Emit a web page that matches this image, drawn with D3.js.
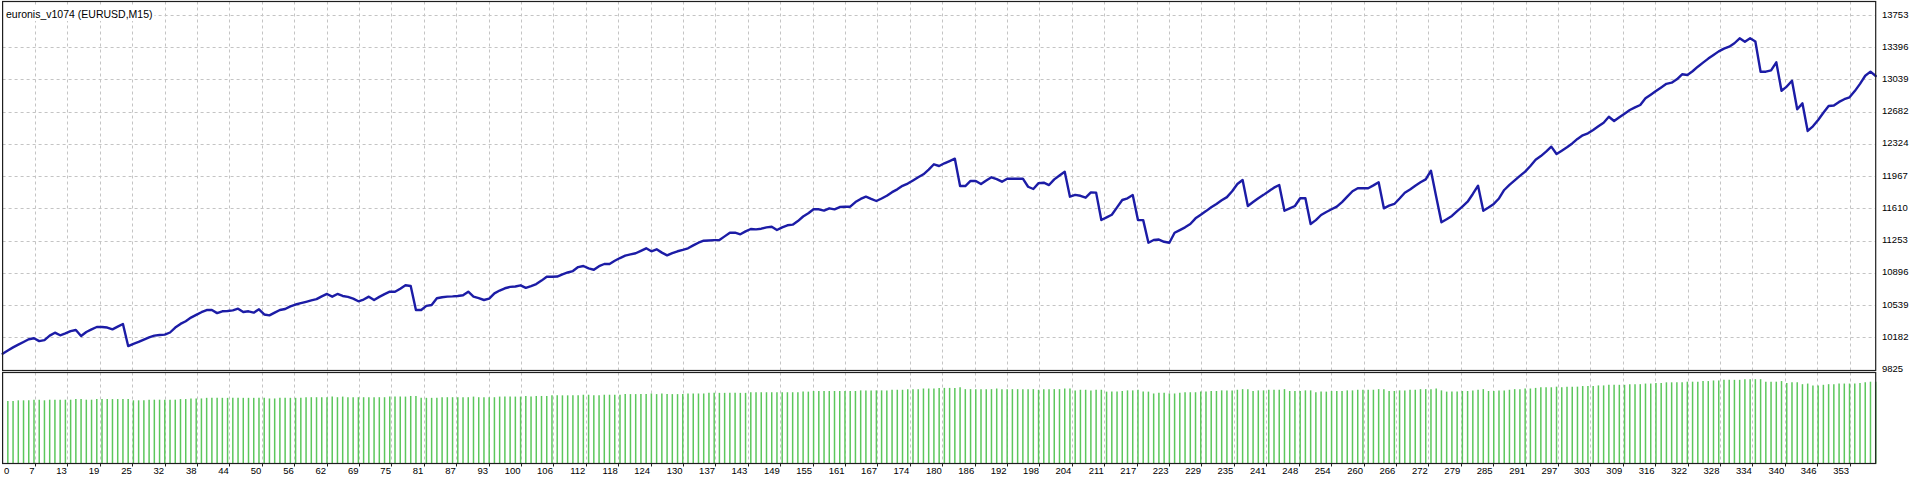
<!DOCTYPE html>
<html>
<head>
<meta charset="utf-8">
<script src="https://cdn.jsdelivr.net/npm/d3@7"></script>
<style>
  html, body { margin: 0; padding: 0; background: #ffffff; }
  svg { display: block; }
</style>
</head>
<body>
<div id="chart"></div>
<script>
// ---------------- DATA ----------------
const chartTitle = "euronis_v1074 (EURUSD,M15)";

// balance after each trade (trade 0 = starting deposit)
const equity = [
10000,10035,10070,10100,10130,10160,10171,10140,10150,10200,
10233,10204,10225,10250,10263,10196,10240,10270,10296,10296,
10290,10270,10300,10329,10085,10110,10130,10155,10180,10200,
10207,10211,10235,10290,10330,10360,10400,10430,10460,10484,
10484,10450,10470,10473,10480,10499,10462,10470,10455,10492,
10435,10425,10455,10484,10495,10525,10545,10560,10575,10590,
10605,10635,10662,10632,10662,10640,10630,10610,10581,10600,
10632,10595,10630,10660,10687,10687,10720,10758,10750,10484,
10484,10530,10540,10614,10625,10632,10635,10640,10647,10687,
10632,10615,10595,10610,10669,10700,10725,10740,10745,10758,
10730,10750,10772,10810,10853,10853,10855,10880,10900,10916,
10960,10972,10945,10930,10970,10994,10994,11030,11060,11086,
11100,11113,11140,11168,11135,11157,11120,11090,11115,11135,
11150,11168,11200,11230,11252,11255,11258,11260,11300,11341,
11341,11323,11355,11382,11378,11385,11400,11407,11371,11400,
11423,11430,11470,11520,11556,11600,11600,11585,11611,11600,
11625,11629,11629,11680,11715,11740,11715,11692,11720,11750,
11790,11821,11860,11885,11920,11955,11988,12040,12099,12080,
12110,12135,12161,11858,11858,11914,11914,11880,11920,11955,
11935,11906,11939,11939,11939,11939,11850,11825,11890,11895,
11869,11932,11975,12017,11740,11760,11750,11729,11788,11785,
11482,11510,11540,11622,11703,11722,11758,11482,11480,11230,
11260,11265,11240,11230,11340,11370,11400,11437,11500,11540,
11580,11622,11660,11700,11735,11800,11880,11925,11637,11680,
11722,11760,11800,11840,11869,11584,11610,11637,11722,11722,
11437,11480,11537,11570,11600,11629,11680,11740,11800,11833,
11833,11833,11865,11899,11611,11640,11659,11720,11784,11820,
11862,11900,11932,12028,11740,11456,11490,11526,11580,11630,
11684,11770,11862,11584,11620,11660,11720,11814,11870,11920,
11970,12017,12080,12150,12190,12240,12294,12213,12250,12287,
12330,12380,12420,12442,12480,12520,12560,12626,12578,12620,
12660,12700,12730,12756,12830,12870,12910,12950,12990,13003,
13040,13096,13088,13130,13180,13225,13270,13310,13350,13380,
13402,13440,13495,13457,13495,13460,13125,13125,13140,13229,
12914,12960,13025,12708,12774,12468,12520,12590,12670,12745,
12750,12790,12820,12841,12910,12990,13080,13125,13077
];

// lot size of trades 1..358
const lots = [
1.00,1.00,1.01,1.01,1.01,1.02,1.02,1.01,1.02,1.02,
1.02,1.02,1.02,1.03,1.03,1.02,1.02,1.03,1.03,1.03,
1.03,1.03,1.03,1.03,1.01,1.01,1.01,1.02,1.02,1.02,
1.02,1.02,1.02,1.03,1.03,1.04,1.04,1.04,1.05,1.05,
1.05,1.05,1.05,1.05,1.05,1.05,1.05,1.05,1.05,1.05,
1.04,1.04,1.05,1.05,1.05,1.05,1.05,1.06,1.06,1.06,
1.06,1.06,1.07,1.06,1.07,1.06,1.06,1.06,1.06,1.06,
1.06,1.06,1.06,1.07,1.07,1.07,1.07,1.08,1.08,1.05,
1.05,1.05,1.05,1.06,1.06,1.06,1.06,1.06,1.06,1.07,
1.06,1.06,1.06,1.06,1.07,1.07,1.07,1.07,1.07,1.08,
1.07,1.08,1.08,1.08,1.09,1.09,1.09,1.09,1.09,1.09,
1.10,1.10,1.09,1.09,1.10,1.10,1.10,1.10,1.11,1.11,
1.11,1.11,1.11,1.12,1.11,1.12,1.11,1.11,1.11,1.11,
1.12,1.12,1.12,1.12,1.13,1.13,1.13,1.13,1.13,1.13,
1.13,1.13,1.14,1.14,1.14,1.14,1.14,1.14,1.14,1.14,
1.14,1.14,1.15,1.15,1.16,1.16,1.16,1.16,1.16,1.16,
1.16,1.16,1.16,1.17,1.17,1.17,1.17,1.17,1.17,1.18,
1.18,1.18,1.19,1.19,1.19,1.20,1.20,1.20,1.21,1.21,
1.21,1.21,1.22,1.19,1.19,1.19,1.19,1.19,1.19,1.20,
1.19,1.19,1.19,1.19,1.19,1.19,1.19,1.18,1.19,1.19,
1.19,1.19,1.20,1.20,1.17,1.18,1.18,1.17,1.18,1.18,
1.15,1.15,1.15,1.16,1.17,1.17,1.18,1.15,1.15,1.12,
1.13,1.13,1.12,1.12,1.13,1.14,1.14,1.14,1.15,1.15,
1.16,1.16,1.17,1.17,1.17,1.18,1.19,1.19,1.16,1.17,
1.17,1.18,1.18,1.18,1.19,1.16,1.16,1.16,1.17,1.17,
1.14,1.15,1.15,1.16,1.16,1.16,1.17,1.17,1.18,1.18,
1.18,1.18,1.19,1.19,1.16,1.16,1.17,1.17,1.18,1.18,
1.19,1.19,1.19,1.20,1.17,1.15,1.15,1.15,1.16,1.16,
1.17,1.18,1.19,1.16,1.16,1.17,1.17,1.18,1.19,1.19,
1.20,1.20,1.21,1.22,1.22,1.22,1.23,1.22,1.23,1.23,
1.23,1.24,1.24,1.24,1.25,1.25,1.26,1.26,1.26,1.26,
1.27,1.27,1.27,1.28,1.28,1.29,1.29,1.30,1.30,1.30,
1.30,1.31,1.31,1.31,1.32,1.32,1.33,1.33,1.34,1.34,
1.34,1.34,1.35,1.35,1.35,1.35,1.31,1.31,1.31,1.32,
1.29,1.30,1.30,1.27,1.28,1.25,1.25,1.26,1.27,1.27,
1.28,1.28,1.28,1.28,1.29,1.30,1.31,1.31
];

const yTickLabels = [13753,13396,13039,12682,12324,11967,11610,11253,10896,10539,10182,9825];

const xTickLabels = [0,7,13,19,25,32,38,44,50,56,62,69,75,81,87,93,100,106,112,118,124,130,137,143,149,155,161,167,174,180,186,192,198,204,211,217,223,229,235,241,248,254,260,266,272,279,285,291,297,303,309,316,322,328,334,340,346,353];

// ---------------- LAYOUT ----------------
const W = 1920, H = 480;
const plotL = 2.6, plotR = 1875.7;
const mainT = 1.5, mainB = 370.5;
const lowT = 372.5, lowB = 463.5;

const svg = d3.select("#chart").append("svg")
  .attr("width", W).attr("height", H);

svg.append("rect").attr("width", W).attr("height", H).attr("fill", "#ffffff");

const x = d3.scaleLinear().domain([0, equity.length - 1]).range([plotL, plotR]);
const y = d3.scaleLinear().domain([9825, 13753]).range([369.5, 15]);
const yLot = d3.scaleLinear().domain([0, 1.45]).range([463, 373]);

// tick positions: evenly spaced, last label at its trade number
const tickStep = xTickLabels[xTickLabels.length - 1] / (xTickLabels.length - 1);
const xTicks = xTickLabels.map((lab, k) => ({ lab, pos: x(k * tickStep) }));

const gridColor = "#c4c4c4";
const dash = "3,3";

// horizontal grid (main panel)
svg.append("g").selectAll("line").data(yTickLabels.slice(0, -1)).join("line")
  .attr("x1", plotL).attr("x2", plotR)
  .attr("y1", d => Math.round(y(d)) + 0.5).attr("y2", d => Math.round(y(d)) + 0.5)
  .attr("stroke", gridColor).attr("stroke-width", 1).attr("stroke-dasharray", dash);

// vertical grid (both panels)
const vg = svg.append("g");
xTicks.slice(1).forEach(t => {
  const xx = Math.round(t.pos) + 0.5;
  vg.append("line").attr("x1", xx).attr("x2", xx).attr("y1", mainT).attr("y2", mainB)
    .attr("stroke", gridColor).attr("stroke-dasharray", dash);
  vg.append("line").attr("x1", xx).attr("x2", xx).attr("y1", lowT).attr("y2", lowB)
    .attr("stroke", gridColor).attr("stroke-dasharray", dash);
});

// lot bars (lower panel)
svg.append("g").selectAll("line").data(lots).join("line")
  .attr("x1", (d, i) => x(i + 1)).attr("x2", (d, i) => x(i + 1))
  .attr("y1", d => yLot(d)).attr("y2", lowB)
  .attr("stroke", "#5cc75c").attr("stroke-width", 1.5);

// title with white background
const title = svg.append("g");
const titleBg = title.append("rect").attr("fill", "#ffffff");
const titleText = title.append("text")
  .attr("x", 6).attr("y", 18)
  .attr("font-family", "'Liberation Sans', Arial, sans-serif")
  .attr("font-size", 10.5).attr("fill", "#000")
  .text(chartTitle);
const bb = titleText.node().getBBox();
titleBg.attr("x", 3).attr("y", 6).attr("width", bb.x + bb.width - 1).attr("height", 15);

// balance line
const line = d3.line().x((d, i) => x(i)).y(d => y(d));
svg.append("path").datum(equity)
  .attr("d", line)
  .attr("fill", "none")
  .attr("stroke", "#1c1ca6")
  .attr("stroke-width", 2.4)
  .attr("stroke-linejoin", "round")
  .attr("stroke-linecap", "round");

// panel borders
svg.append("rect").attr("x", plotL).attr("y", mainT)
  .attr("width", plotR - plotL).attr("height", mainB - mainT)
  .attr("fill", "none").attr("stroke", "#1e1e1e").attr("stroke-width", 1.2);
svg.append("rect").attr("x", plotL).attr("y", lowT)
  .attr("width", plotR - plotL).attr("height", lowB - lowT)
  .attr("fill", "none").attr("stroke", "#1e1e1e").attr("stroke-width", 1.2);

// right price labels
const font = "'Liberation Sans', Arial, sans-serif";
svg.append("g").selectAll("text").data(yTickLabels).join("text")
  .attr("x", 1882).attr("y", d => y(d) + 2.5)
  .attr("font-family", font).attr("font-size", 9.5).attr("fill", "#000")
  .text(d => d);

// bottom tick marks and labels
svg.append("g").selectAll("line").data(xTicks.slice(1)).join("line")
  .attr("x1", d => Math.round(d.pos) + 0.5).attr("x2", d => Math.round(d.pos) + 0.5)
  .attr("y1", lowB).attr("y2", lowB + 3)
  .attr("stroke", "#1e1e1e");
svg.append("g").selectAll("text").data(xTicks).join("text")
  .attr("x", (d, k) => k === 0 ? 4 : d.pos - 0.5)
  .attr("y", 474)
  .attr("text-anchor", (d, k) => k === 0 ? "start" : "end")
  .attr("font-family", font).attr("font-size", 9.5).attr("fill", "#000")
  .text(d => d.lab);
</script>
</body>
</html>
